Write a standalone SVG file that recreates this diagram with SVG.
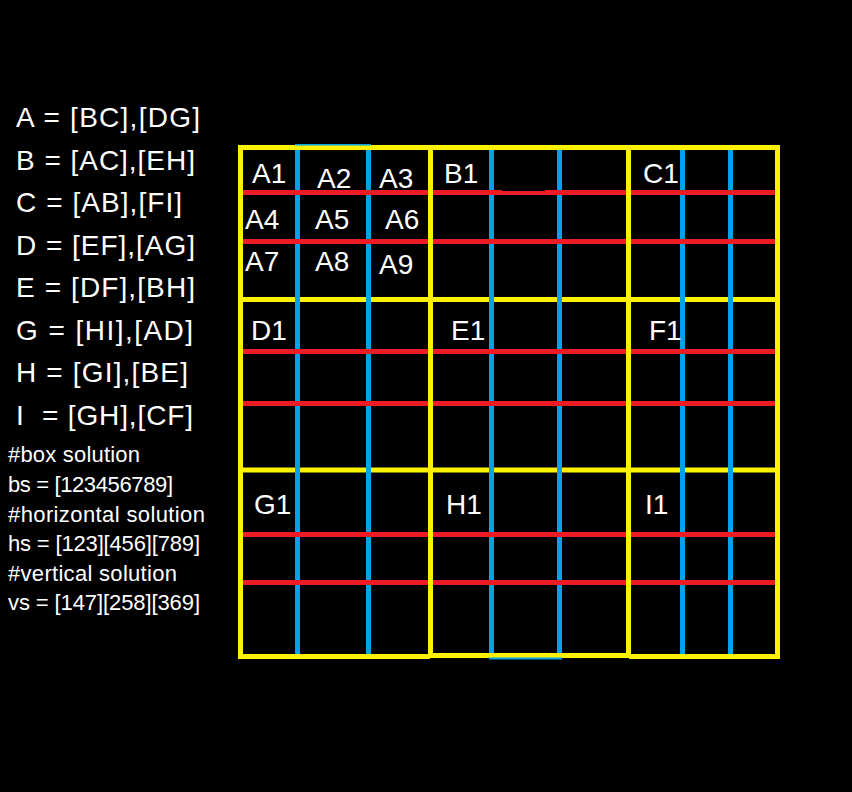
<svg xmlns="http://www.w3.org/2000/svg" width="852" height="792" viewBox="0 0 852 792">
<style>
.y{fill:#FFF200}
.b{fill:#00A2E8}
.r{fill:#ED1C24}
.lbl{font-family:"Liberation Sans",Arial,sans-serif;font-size:28px;fill:#FFFFFF}
.eq{font-family:"Liberation Sans",Arial,sans-serif;font-size:28px;fill:#FFFFFF;white-space:pre}
.sol{font-family:"Liberation Sans",Arial,sans-serif;font-size:22px;fill:#FFFFFF;white-space:pre}
</style>
<rect x="0" y="0" width="852" height="792" fill="#000000"/>

<g id="legend-relations">
<text class="eq" x="16" y="127" textLength="184" lengthAdjust="spacing">A = [BC],[DG]</text>
<text class="eq" x="16" y="169.5" textLength="179" lengthAdjust="spacing">B = [AC],[EH]</text>
<text class="eq" x="16" y="212" textLength="166" lengthAdjust="spacing">C = [AB],[FI]</text>
<text class="eq" x="16" y="254.5" textLength="179" lengthAdjust="spacing">D = [EF],[AG]</text>
<text class="eq" x="16" y="297" textLength="179" lengthAdjust="spacing">E = [DF],[BH]</text>
<text class="eq" x="16" y="339.5" textLength="177" lengthAdjust="spacing">G = [HI],[AD]</text>
<text class="eq" x="16" y="382" textLength="172" lengthAdjust="spacing">H = [GI],[BE]</text>
<text class="eq" x="16" y="424.5" textLength="177" lengthAdjust="spacing">I  = [GH],[CF]</text>
</g>

<g id="legend-solutions">
<text class="sol" x="8" y="462" textLength="132" lengthAdjust="spacing">#box solution</text>
<text class="sol" x="8" y="492" textLength="165" lengthAdjust="spacing">bs = [123456789]</text>
<text class="sol" x="8" y="521.5" textLength="197" lengthAdjust="spacing">#horizontal solution</text>
<text class="sol" x="8" y="551" textLength="192" lengthAdjust="spacing">hs = [123][456][789]</text>
<text class="sol" x="8" y="580.5" textLength="169" lengthAdjust="spacing">#vertical solution</text>
<text class="sol" x="8" y="610" textLength="192" lengthAdjust="spacing">vs = [147][258][369]</text>
</g>

<g id="grid-yellow-horizontal">
<rect class="y" x="238" y="145" width="542" height="5"/>
<rect class="y" x="238" y="297" width="542" height="5"/>
<rect class="y" x="238" y="467.5" width="542" height="5"/>
<rect class="y" x="238" y="654" width="192" height="5"/>
<rect class="y" x="430" y="653" width="199" height="5"/>
<rect class="y" x="629" y="654" width="151" height="5"/>
</g>

<g id="grid-blue">
<rect class="b" x="295" y="144" width="76" height="1.5"/>
<rect class="b" x="489" y="657.5" width="73" height="2"/>
<rect class="b" x="295" y="150" width="5" height="504"/>
<rect class="b" x="366" y="150" width="5" height="504"/>
<rect class="b" x="489" y="150" width="5" height="503"/>
<rect class="b" x="557" y="150" width="5" height="503"/>
<rect class="b" x="680" y="150" width="5" height="504"/>
<rect class="b" x="728" y="150" width="5" height="504"/>
</g>

<g id="grid-red">
<rect class="r" x="243" y="190" width="532" height="5"/>
<rect class="r" x="243" y="239" width="532" height="5"/>
<rect class="r" x="243" y="349" width="532" height="5"/>
<rect class="r" x="243" y="401" width="532" height="5"/>
<rect class="r" x="243" y="532" width="532" height="5"/>
<rect class="r" x="243" y="580" width="532" height="5"/>
<rect x="502" y="190" width="43" height="1" fill="#000000"/>
</g>

<g id="grid-yellow-vertical">
<rect class="y" x="238" y="145" width="5" height="514"/>
<rect class="y" x="428" y="145" width="5" height="513"/>
<rect class="y" x="626" y="145" width="5" height="513"/>
<rect class="y" x="775" y="145" width="5" height="514"/>
</g>

<g id="labels">
<text class="lbl" x="252" y="183">A1</text>
<text class="lbl" x="317" y="188">A2</text>
<text class="lbl" x="379" y="188">A3</text>
<text class="lbl" x="444" y="183">B1</text>
<text class="lbl" x="643" y="183">C1</text>
<text class="lbl" x="245" y="229">A4</text>
<text class="lbl" x="315" y="229">A5</text>
<text class="lbl" x="385" y="229">A6</text>
<text class="lbl" x="245" y="271">A7</text>
<text class="lbl" x="315" y="271">A8</text>
<text class="lbl" x="379" y="274">A9</text>
<text class="lbl" x="251" y="340">D1</text>
<text class="lbl" x="451" y="340">E1</text>
<text class="lbl" x="649" y="340">F1</text>
<text class="lbl" x="254" y="514">G1</text>
<text class="lbl" x="446" y="514">H1</text>
<text class="lbl" x="645" y="514">I1</text>
</g>
</svg>
